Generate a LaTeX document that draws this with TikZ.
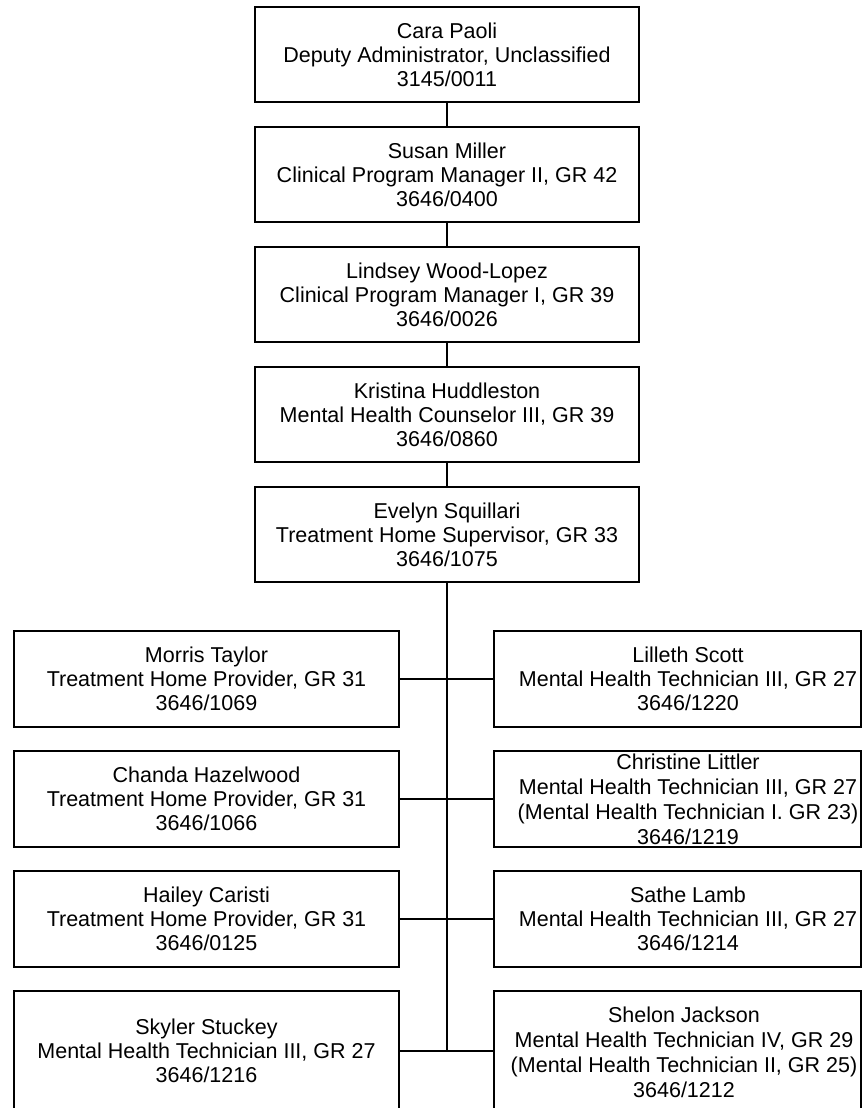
\documentclass[tikz,border=0pt]{standalone}
\usepackage{fontspec}
\setmainfont{Liberation Sans}
\begin{document}
\begin{tikzpicture}[x=1pt,y=-1pt,
  box/.style={draw, line width=2.8pt, inner sep=0pt, minimum height=95pt, align=center, font=\fontsize{21.5}{24}\selectfont},
  topbox/.style={box, minimum width=384pt},
  leftbox/.style={box, minimum width=385pt, minimum height=96pt},
  rightbox/.style={box, minimum width=367pt, minimum height=96pt},
  txt/.style={inner sep=0pt, align=center, font=\fontsize{21.5}{24}\selectfont},
  txtfour/.style={txt, font=\fontsize{21.5}{25}\selectfont},
  conn/.style={draw, line width=2.8pt}]
\useasboundingbox (0,0) rectangle (863,1108);
\clip (0,0) rectangle (863,1108);
\fill[white] (0,0) rectangle (863,1108);
% top chain
\node[topbox] (a) at (447,54.5) {Cara Paoli\\Deputy Administrator, Unclassified\\3145/0011};
\node[topbox] (b) at (447,174.5) {Susan Miller\\Clinical Program Manager II, GR 42\\3646/0400};
\node[topbox] (c) at (447,294.5) {Lindsey Wood-Lopez\\Clinical Program Manager I, GR 39\\3646/0026};
\node[topbox] (d) at (447,414.5) {Kristina Huddleston\\Mental Health Counselor III, GR 39\\3646/0860};
\node[topbox] (e) at (447,534.5) {Evelyn Squillari\\Treatment Home Supervisor, GR 33\\3646/1075};
\draw[conn] (a) -- (b);
\draw[conn] (b) -- (c);
\draw[conn] (c) -- (d);
\draw[conn] (d) -- (e);
% left column
\node[leftbox] (l1) at (206.5,679) {Morris Taylor\\Treatment Home Provider, GR 31\\3646/1069};
\node[leftbox] (l2) at (206.5,799) {Chanda Hazelwood\\Treatment Home Provider, GR 31\\3646/1066};
\node[leftbox] (l3) at (206.5,919) {Hailey Caristi\\Treatment Home Provider, GR 31\\3646/0125};
\node[leftbox, minimum height=120pt] (l4) at (206.5,1051) {Skyler Stuckey\\Mental Health Technician III, GR 27\\3646/1216};
% right column
\node[rightbox] (r1) at (677.5,679) {};
\node[txt] (r1t) at (688,679) {Lilleth Scott\\Mental Health Technician III, GR 27\\3646/1220};
\node[rightbox] (r2) at (677.5,799) {};
\node[txtfour] (r2t) at (688,799) {Christine Littler\\Mental Health Technician III, GR 27\\(Mental Health Technician I. GR 23)\\3646/1219};
\node[rightbox] (r3) at (677.5,919) {};
\node[txt] (r3t) at (688,919) {Sathe Lamb\\Mental Health Technician III, GR 27\\3646/1214};
\node[rightbox, minimum height=120pt] (r4) at (677.5,1051) {};
\node[txtfour] (r4t) at (684,1052) {Shelon Jackson\\Mental Health Technician IV, GR 29\\(Mental Health Technician II, GR 25)\\3646/1212};
% connectors
\coordinate (spineend) at (447,1051);
\draw[conn] (e.south) -- (spineend);
\draw[conn] (l1.east) -- (r1.west);
\draw[conn] (l2.east) -- (r2.west);
\draw[conn] (l3.east) -- (r3.west);
\draw[conn] (l4.east) -- (r4.west);
\end{tikzpicture}
\end{document}
